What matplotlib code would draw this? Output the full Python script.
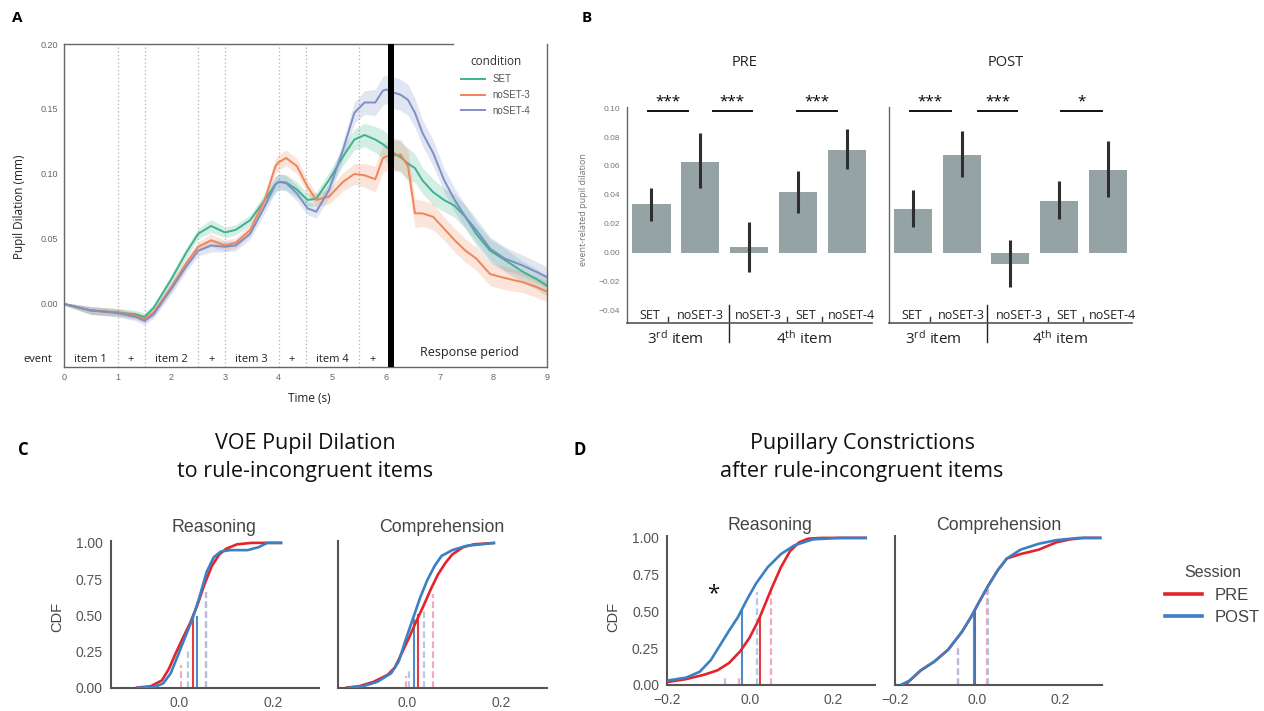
import matplotlib
matplotlib.use('Agg')
import matplotlib.pyplot as plt
from matplotlib.lines import Line2D
import numpy as np

# ---------------- DATA ----------------
# Panel A: pupil dilation time courses
time_s = [0, 0.5, 1.0, 1.34, 1.5, 1.67, 2.0, 2.27, 2.5, 2.74, 3.0, 3.2, 3.47, 3.74, 3.94, 4.0,
          4.14, 4.34, 4.54, 4.7, 4.94, 5.2, 5.41, 5.6, 5.8, 5.94, 6.0, 6.14, 6.27, 6.41, 6.54,
          6.68, 6.88, 7.08, 7.28, 7.48, 7.68, 7.94, 8.21, 8.54, 8.81, 9.0]
set_vals = [0, -0.005, -0.0065, -0.008, -0.010, -0.003, 0.019, 0.039, 0.054, 0.060, 0.055, 0.057,
            0.0645, 0.080, 0.092, 0.094, 0.0934, 0.088, 0.080, 0.081, 0.0955, 0.1135, 0.1265,
            0.130, 0.1265, 0.123, 0.121, 0.116, 0.113, 0.108, 0.1045, 0.095, 0.086, 0.080,
            0.0755, 0.067, 0.054, 0.041, 0.034, 0.025, 0.019, 0.014]
noset3_vals = [0, -0.005, -0.0065, -0.009, -0.0116, -0.0065, 0.013, 0.031, 0.044, 0.049, 0.045,
               0.047, 0.057, 0.080, 0.106, 0.109, 0.1123, 0.106, 0.090, 0.080, 0.0826, 0.094,
               0.100, 0.099, 0.096, 0.112, 0.1135, 0.114, 0.115, 0.106, 0.0697, 0.0697, 0.067,
               0.058, 0.049, 0.041, 0.035, 0.023, 0.020, 0.0168, 0.013, 0.0095]
noset4_vals = [0, -0.005, -0.007, -0.010, -0.013, -0.008, 0.0116, 0.0284, 0.041, 0.045, 0.044,
               0.045, 0.054, 0.075, 0.092, 0.094, 0.093, 0.085, 0.0735, 0.071, 0.0877, 0.1187,
               0.147, 0.155, 0.155, 0.164, 0.165, 0.1626, 0.161, 0.157, 0.147, 0.1316, 0.116,
               0.0955, 0.080, 0.067, 0.057, 0.0426, 0.035, 0.0297, 0.0245, 0.0206]
ci_half = [0.001, 0.003, 0.003, 0.003, 0.003, 0.003, 0.004, 0.004, 0.004, 0.005, 0.004, 0.004,
           0.004, 0.005, 0.006, 0.006, 0.006, 0.006, 0.005, 0.005, 0.006, 0.007, 0.008, 0.009,
           0.010, 0.011, 0.011, 0.012, 0.012, 0.012, 0.011, 0.010, 0.010, 0.009, 0.009, 0.009,
           0.009, 0.009, 0.009, 0.008, 0.008, 0.008]
cond_names = ['SET', 'noSET-3', 'noSET-4']
cond_colors = ['#3fb28c', '#f0845a', '#7e8fc6']
event_lines = [1, 1.5, 2.5, 3, 4, 4.5, 5.5]
event_labels = ['item 1', '+', 'item 2', '+', 'item 3', '+', 'item 4', '+']
event_pos = [0.5, 1.25, 2.0, 2.75, 3.5, 4.25, 5.0, 5.75]

# Panel B: event-related pupil dilation
bar_labels = ['SET', 'noSET-3', 'noSET-3', 'SET', 'noSET-4']
pre_means = [0.0334, 0.063, 0.0039, 0.0418, 0.0713]
pre_lo = [0.0221, 0.045, -0.0136, 0.0272, 0.0577]
pre_hi = [0.0445, 0.083, 0.0215, 0.0567, 0.0856]
post_means = [0.0305, 0.0678, -0.0078, 0.036, 0.057]
post_lo = [0.018, 0.0521, -0.0235, 0.0231, 0.0383]
post_hi = [0.0431, 0.0844, 0.0088, 0.0498, 0.0775]
pre_sig = [(-0.08, 0.74, '***'), (1.25, 2.06, '***'), (2.97, 3.8, '***')]
post_sig = [(-0.06, 0.77, '***'), (1.34, 2.14, '***'), (3.04, 3.88, '*')]

# Panel C: VOE pupil dilation CDFs
c_rea_pre_x = [-0.094, -0.062, -0.038, -0.023, -0.008, 0.008, 0.023, 0.038, 0.054, 0.069, 0.085, 0.10, 0.123, 0.154, 0.22]
c_rea_pre_y = [0, 0.01, 0.05, 0.13, 0.24, 0.35, 0.45, 0.57, 0.72, 0.84, 0.92, 0.96, 0.99, 1.0, 1.0]
c_rea_post_x = [-0.092, -0.054, -0.035, -0.019, -0.004, 0.012, 0.027, 0.042, 0.058, 0.073, 0.088, 0.108, 0.146, 0.169, 0.188, 0.22]
c_rea_post_y = [0, 0.005, 0.03, 0.10, 0.22, 0.35, 0.47, 0.62, 0.80, 0.90, 0.94, 0.95, 0.95, 0.97, 1.0, 1.0]
c_com_pre_x = [-0.133, -0.104, -0.073, -0.042, -0.027, -0.012, 0.004, 0.019, 0.035, 0.05, 0.065, 0.081, 0.096, 0.119, 0.142, 0.188]
c_com_pre_y = [0, 0.01, 0.04, 0.09, 0.14, 0.24, 0.35, 0.46, 0.57, 0.68, 0.78, 0.86, 0.92, 0.97, 0.99, 1.0]
c_com_post_x = [-0.127, -0.096, -0.065, -0.035, -0.019, -0.004, 0.012, 0.027, 0.042, 0.058, 0.073, 0.096, 0.127, 0.188]
c_com_post_y = [0, 0.01, 0.04, 0.10, 0.18, 0.33, 0.48, 0.62, 0.74, 0.84, 0.91, 0.95, 0.98, 1.0]
c_rea_med = {'PRE': (0.028, 0.5), 'POST': (0.037, 0.49)}
c_rea_quart = {'PRE': [(0.004, 0.16), (0.056, 0.66)], 'POST': [(0.019, 0.26), (0.056, 0.66)]}
c_com_med = {'PRE': (0.023, 0.5), 'POST': (0.013, 0.47)}
c_com_quart = {'PRE': [(-0.004, 0.08), (0.054, 0.65)], 'POST': [(0.004, 0.13), (0.035, 0.55)]}

# Panel D: pupillary constriction CDFs
d_rea_pre_x = [-0.201, -0.155, -0.111, -0.079, -0.051, -0.024, -0.002, 0.02, 0.036, 0.052, 0.074, 0.096, 0.118, 0.14, 0.173, 0.282]
d_rea_pre_y = [0.02, 0.04, 0.07, 0.10, 0.15, 0.23, 0.32, 0.44, 0.55, 0.66, 0.80, 0.91, 0.97, 0.995, 1.0, 1.0]
d_rea_post_x = [-0.201, -0.155, -0.122, -0.095, -0.073, -0.051, -0.03, -0.008, 0.014, 0.042, 0.074, 0.107, 0.151, 0.216, 0.282]
d_rea_post_y = [0.03, 0.05, 0.09, 0.17, 0.27, 0.37, 0.46, 0.58, 0.69, 0.80, 0.89, 0.95, 0.99, 1.0, 1.0]
d_com_pre_x = [-0.175, -0.164, -0.137, -0.104, -0.071, -0.038, -0.016, 0.005, 0.027, 0.049, 0.071, 0.104, 0.148, 0.191, 0.224, 0.257, 0.3]
d_com_pre_y = [0, 0.03, 0.10, 0.16, 0.24, 0.36, 0.46, 0.57, 0.68, 0.78, 0.86, 0.89, 0.92, 0.97, 0.99, 1.0, 1.0]
d_com_post_x = [-0.186, -0.164, -0.137, -0.104, -0.071, -0.038, -0.016, 0.005, 0.027, 0.049, 0.071, 0.104, 0.148, 0.191, 0.246, 0.3]
d_com_post_y = [0, 0.03, 0.10, 0.16, 0.24, 0.36, 0.46, 0.57, 0.68, 0.78, 0.86, 0.92, 0.96, 0.985, 1.0, 1.0]
d_rea_med = {'PRE': (0.023, 0.47), 'POST': (-0.019, 0.5)}
d_rea_quart = {'PRE': [(0.05, 0.64), (-0.027, 0.05)], 'POST': [(0.016, 0.63), (-0.06, 0.07)]}
d_com_med = {'PRE': (-0.007, 0.5), 'POST': (-0.009, 0.5)}
d_com_quart = {'PRE': [(-0.046, 0.25), (0.024, 0.65)], 'POST': [(-0.046, 0.25), (0.026, 0.65)]}

sessions = ['PRE', 'POST']
sess_colors = {'PRE': '#e3242b', 'POST': '#3a80c3'}
sess_dash = {'PRE': '#f19cb0', 'POST': '#a9bde4'}

# ---------------- FIGURE ----------------
W, H = 1264, 711
plt.rcParams['font.family'] = ['Open Sans', 'DejaVu Sans']
plt.rcParams['mathtext.fontset'] = 'custom'
plt.rcParams['mathtext.rm'] = 'Open Sans'
plt.rcParams['mathtext.it'] = 'Open Sans:italic'
plt.rcParams['mathtext.bf'] = 'Open Sans:bold'

fig = plt.figure(figsize=(W / 100, H / 100), dpi=100)
fig.patch.set_facecolor('white')


def rect(l, t, r, b):
    return [l / W, 1 - b / H, (r - l) / W, (b - t) / H]


def ftext(x, y, s, **kw):
    kw.setdefault('ha', 'center')
    kw.setdefault('va', 'center')
    fig.text(x / W, 1 - y / H, s, **kw)


def tickfont(ax, fam='Liberation Sans'):
    for lbl in ax.get_xticklabels() + ax.get_yticklabels():
        lbl.set_family(fam)


# ---------- Panel A ----------
axA = fig.add_axes(rect(64, 44, 547, 367))
for name, vals, col in zip(cond_names, [set_vals, noset3_vals, noset4_vals], cond_colors):
    v = np.array(vals)
    c = np.array(ci_half)
    axA.fill_between(time_s, v - c, v + c, color=col, alpha=0.22, lw=0)
    axA.plot(time_s, v, color=col, lw=1.4, label=name)
for t in event_lines:
    axA.axvline(t, color='#b0b0b0', ls=(0, (1, 2)), lw=0.9, zorder=0)
axA.axvspan(6.03, 6.15, color='black', lw=0, zorder=5)
axA.set_xlim(0, 9)
axA.set_ylim(-0.0485, 0.20)
axA.set_xticks(range(10))
axA.set_yticks([0, 0.05, 0.10, 0.15, 0.20])
axA.yaxis.set_major_formatter('{x:.2f}')
axA.tick_params(length=0, labelsize=6.5, labelcolor='#666', pad=4)
tickfont(axA)
for s in axA.spines.values():
    s.set_color('#666')
    s.set_linewidth(1.0)
axA.spines['top'].set_bounds(0, 7.25)
trA = axA.get_xaxis_transform()
for lab, pos in zip(event_labels, event_pos):
    axA.text(pos, 0.022, lab, transform=trA, ha='center', va='center', fontsize=8, color='#222')
axA.text(7.56, 0.045, 'Response period', transform=trA, ha='center', va='center', fontsize=9, color='#222')
ftext(38, 360, 'event', fontsize=8, color='#222')
ftext(20, 207, 'Pupil Dilation (mm)', rotation=90, fontsize=8.5, color='#222')
ftext(309, 398, 'Time (s)', fontsize=8.5, color='#222')
legA = axA.legend(title='condition', loc='upper right', bbox_to_anchor=(0.985, 0.995), frameon=False,
                  fontsize=7, title_fontsize=8.5, handlelength=2.4, handletextpad=0.8,
                  labelspacing=0.6, borderaxespad=0.6)
for txt in legA.get_texts():
    txt.set_family('Liberation Sans')
    txt.set_color('#555')
legA.get_title().set_color('#333')
ftext(17, 18, 'A', fontsize=11, fontweight='bold')

# ---------- Panel B ----------
axB1 = fig.add_axes(rect(627, 106.7, 871.5, 323))
axB2 = fig.add_axes(rect(888.8, 106.7, 1132, 323))
bar_label_x = [-0.03, 1.0, 2.18, 3.15, 4.1]
small_sep_x = [0.34, 2.78, 3.49]
for ax, means, lo, hi, sig, sep in [(axB1, pre_means, pre_lo, pre_hi, pre_sig, 1.59),
                                    (axB2, post_means, post_lo, post_hi, post_sig, 1.51)]:
    xs = np.arange(len(means))
    ax.bar(xs, means, width=0.78, color='#96a3a5', zorder=1)
    ax.vlines(xs, lo, hi, color='#2e2e2e', lw=2.2, zorder=2)
    ax.set_xlim(-0.5, 4.5)
    ax.set_ylim(-0.0487, 0.101)
    ax.set_xticks([])
    for sp in ['top', 'right']:
        ax.spines[sp].set_visible(False)
    ax.spines['left'].set_color('#666')
    ax.spines['left'].set_linewidth(1.0)
    ax.spines['bottom'].set_color('#555')
    ax.spines['bottom'].set_linewidth(1.2)
    for x0, x1, st in sig:
        ax.plot([x0, x1], [0.0977, 0.0977], color='#111', lw=1.4, clip_on=False)
        ax.text((x0 + x1) / 2, 0.1045, st, ha='center', va='center', fontsize=11, clip_on=False)
    for lab, lx in zip(bar_labels, bar_label_x):
        ax.text(lx, -0.0435, lab, ha='center', va='center', fontsize=9, color='#222')
    for sx in small_sep_x:
        ax.plot([sx, sx], [-0.0445, -0.0475], color='#333', lw=1.0, clip_on=False)
    ax.plot([sep, sep], [-0.0362, -0.0618], color='#222', lw=1.0, clip_on=False)
axB1.set_yticks(np.round(np.arange(-0.04, 0.101, 0.02), 2))
axB1.yaxis.set_major_formatter('{x:.2f}')
axB1.tick_params(axis='y', length=0, labelsize=6, labelcolor='#777', pad=5)
tickfont(axB1)
axB2.set_yticks([])
ftext(583, 210, 'event-related pupil dilation', rotation=90, fontsize=6.5, color='#777')
ftext(745, 63, 'PRE', fontsize=10.5, color='#222')
ftext(1006, 63, 'POST', fontsize=10.5, color='#222')
for x, s in [(675, '3$^{\\mathrm{rd}}$ item'), (804, '4$^{\\mathrm{th}}$ item'),
             (933, '3$^{\\mathrm{rd}}$ item'), (1060, '4$^{\\mathrm{th}}$ item')]:
    ftext(x, 339, s, fontsize=11, color='#222')
ftext(587, 18, 'B', fontsize=11, fontweight='bold')


# ---------- Panels C / D ----------
def cdf_axes(r, xlim, xticks, title, title_xy, curves, med, quart, show_y, cdf_xy):
    ax = fig.add_axes(r)
    for sess in sessions:
        cx, cy = curves[sess]
        ax.plot(cx, cy, color=sess_colors[sess], lw=1.9, zorder=3, solid_capstyle='butt')
    for sess in sessions:
        for qx, qh in quart[sess]:
            ax.plot([qx, qx], [0, qh], color=sess_dash[sess], lw=1.6, ls=(0, (3, 1.5)),
                    alpha=0.85, zorder=2)
    for sess in sessions:
        mx, mh = med[sess]
        ax.plot([mx, mx], [0, mh], color=sess_colors[sess], lw=1.5, zorder=2, alpha=0.9)
    ax.set_xlim(*xlim)
    ax.set_ylim(0, 1.013)
    ax.set_xticks(xticks)
    ax.xaxis.set_major_formatter('{x:.1f}')
    for sp in ['top', 'right']:
        ax.spines[sp].set_visible(False)
    for sp in ['left', 'bottom']:
        ax.spines[sp].set_color('#555')
        ax.spines[sp].set_linewidth(1.5)
    if show_y:
        ax.set_yticks([0, 0.25, 0.5, 0.75, 1.0])
        ax.yaxis.set_major_formatter('{x:.2f}')
        ftext(cdf_xy[0], cdf_xy[1], 'CDF', rotation=90, fontsize=10.5, color='#444',
              family='Liberation Sans')
    else:
        ax.set_yticks([])
    ax.tick_params(length=0, labelsize=10, labelcolor='#555', pad=6)
    tickfont(ax)
    ftext(title_xy[0], title_xy[1], title, fontsize=12.8, color='#444', family='Liberation Sans')
    return ax


axC1 = cdf_axes(rect(111, 541, 318.7, 687.7), (-0.147, 0.298), [0.0, 0.2], 'Reasoning', (213.6, 528),
                {'PRE': (c_rea_pre_x, c_rea_pre_y), 'POST': (c_rea_post_x, c_rea_post_y)},
                c_rea_med, c_rea_quart, True, (57, 617))
axC2 = cdf_axes(rect(338, 541, 547.4, 687.7), (-0.149, 0.30), [0.0, 0.2], 'Comprehension', (442, 528),
                {'PRE': (c_com_pre_x, c_com_pre_y), 'POST': (c_com_post_x, c_com_post_y)},
                c_com_med, c_com_quart, False, None)
axD1 = cdf_axes(rect(667.4, 536, 874.5, 685), (-0.2, 0.3), [-0.2, 0.0, 0.2], 'Reasoning', (770, 526),
                {'PRE': (d_rea_pre_x, d_rea_pre_y), 'POST': (d_rea_post_x, d_rea_post_y)},
                d_rea_med, d_rea_quart, True, (613, 617))
axD2 = cdf_axes(rect(894.8, 536, 1101.5, 685), (-0.2, 0.3), [-0.2, 0.0, 0.2], 'Comprehension', (998.6, 526),
                {'PRE': (d_com_pre_x, d_com_pre_y), 'POST': (d_com_post_x, d_com_post_y)},
                d_com_med, d_com_quart, False, None)
axD1.text(-0.0896, 0.62, '*', ha='center', va='center', fontsize=16, color='#111')

ftext(305, 443, 'VOE Pupil Dilation', fontsize=15.5, color='#111')
ftext(305, 472, 'to rule-incongruent items', fontsize=15.5, color='#111')
ftext(862, 443, 'Pupillary Constrictions', fontsize=15.5, color='#111')
ftext(862, 472, 'after rule-incongruent items', fontsize=15.5, color='#111')
ftext(23, 450, 'C', fontsize=12, fontweight='bold')
ftext(580, 450, 'D', fontsize=12, fontweight='bold')

handles = [Line2D([0], [0], color=sess_colors[s], lw=2.6) for s in sessions]
legD = fig.legend(handles, sessions, title='Session', loc='upper left',
                  bbox_to_anchor=(1150 / W, 1 - 550 / H), frameon=False, fontsize=12,
                  title_fontsize=11.5, handlelength=2.2, handletextpad=0.8, labelspacing=0.45)
for txt in legD.get_texts():
    txt.set_family('Liberation Sans')
    txt.set_color('#444')
legD.get_title().set_family('Liberation Sans')
legD.get_title().set_color('#444')

fig.savefig('out.png', dpi=100, facecolor='white')
